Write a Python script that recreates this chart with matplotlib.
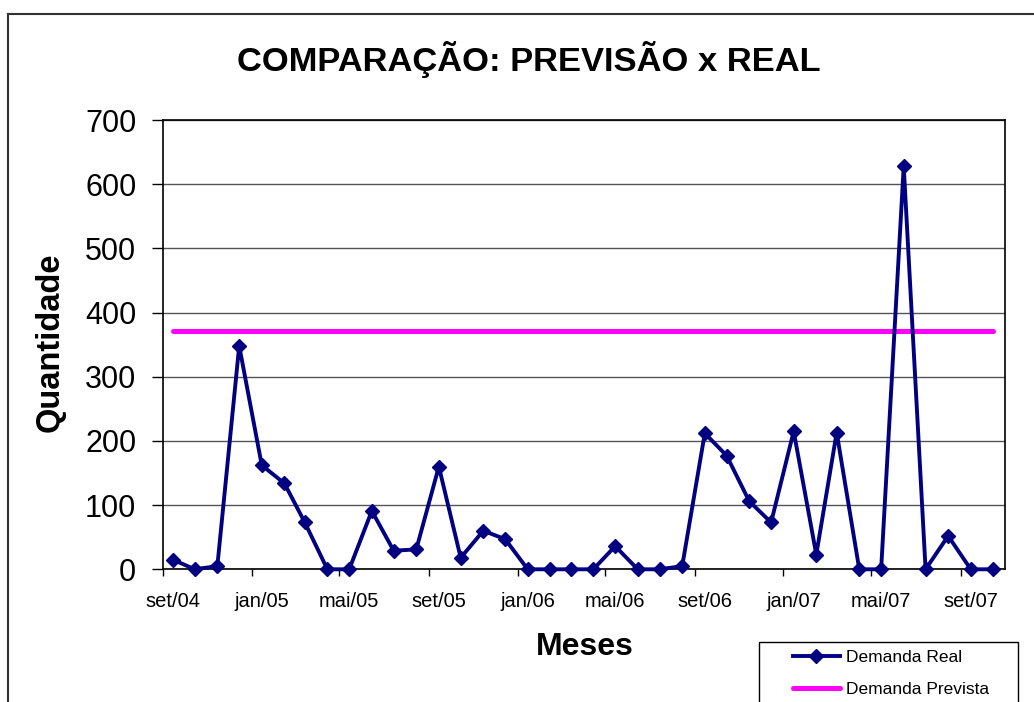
import matplotlib
matplotlib.use('Agg')
import matplotlib.pyplot as plt
import matplotlib.dates as mdates
from matplotlib.lines import Line2D
from matplotlib.patches import Rectangle
import pandas as pd

# meses (dados no dia 15 de cada mes)
meses = ['2004-09', '2004-10', '2004-11', '2004-12',
         '2005-01', '2005-02', '2005-03', '2005-04', '2005-05', '2005-06',
         '2005-07', '2005-08', '2005-09', '2005-10', '2005-11', '2005-12',
         '2006-01', '2006-02', '2006-03', '2006-04', '2006-05', '2006-06',
         '2006-07', '2006-08', '2006-09', '2006-10', '2006-11', '2006-12',
         '2007-01', '2007-02', '2007-03', '2007-04', '2007-05', '2007-06',
         '2007-07', '2007-08', '2007-09', '2007-10']
demanda_real = [15, 0, 5, 348,
                162, 134, 73, 0, 0, 91, 29, 31, 160, 18, 60, 47,
                0, 0, 0, 0, 36, 0, 0, 5, 212, 177, 106, 73,
                215, 23, 213, 0, 0, 628, 0, 52, 0, 0]
demanda_prevista = [372] * len(meses)

meses_pt = ['jan', 'fev', 'mar', 'abr', 'mai', 'jun',
            'jul', 'ago', 'set', 'out', 'nov', 'dez']

datas = pd.to_datetime([m + '-15' for m in meses])

plt.rcParams['font.family'] = ['Liberation Sans', 'DejaVu Sans']

W, H = 1034, 702
fig = plt.figure(figsize=(W / 100, H / 100), dpi=100)
ax = fig.add_axes([162.7 / W, 1 - 569.3 / H, (1005 - 162.7) / W, (569.3 - 120) / H])

ax.plot(datas, demanda_real, color='#000080', lw=2.8, marker='D', ms=7.5,
        label='Demanda Real', clip_on=False, zorder=4)
ax.plot(datas, demanda_prevista, color='#FF00FF', lw=3.6,
        label='Demanda Prevista', solid_capstyle='round', zorder=3)

ax.set_xlim(pd.Timestamp('2004-09-01'), pd.Timestamp('2007-11-01'))
ax.set_ylim(0, 700)
ax.set_yticks(range(0, 701, 100))
ax.yaxis.grid(True, color='#555555', lw=1)
ax.set_axisbelow(True)

ax.xaxis.set_major_locator(mdates.MonthLocator(bymonth=(1, 5, 9)))
ax.xaxis.set_major_formatter(plt.NullFormatter())
ax.xaxis.set_minor_locator(mdates.MonthLocator(bymonth=(1, 5, 9), bymonthday=15))
ax.xaxis.set_minor_formatter(plt.FuncFormatter(
    lambda v, p: '%s/%s' % (meses_pt[mdates.num2date(v).month - 1],
                            mdates.num2date(v).strftime('%y'))))
ax.tick_params(axis='x', which='major', length=5, width=1, direction='out')
ax.tick_params(axis='x', which='minor', length=0, pad=16, labelsize=14.5)
ax.tick_params(axis='y', length=8, width=1, direction='out', pad=11, labelsize=22)
for s in ax.spines.values():
    s.set_color('black')
    s.set_linewidth(1.2)

fig.text(529 / W, 1 - 60 / H, 'COMPARAÇÃO: PREVISÃO x REAL', ha='center', va='center',
         fontsize=24.8, weight='bold')
fig.text(50 / W, 1 - 342 / H, 'Quantidade', ha='center', va='center', rotation=90,
         fontsize=23.5, weight='bold')
fig.text(585 / W, 1 - 647 / H, 'Meses', ha='center', va='center',
         fontsize=23, weight='bold')

# moldura externa do grafico
fig.add_artist(Line2D([8 / W, 8 / W], [-0.01, 1 - 14 / H], color='#333333', lw=1.5))
fig.add_artist(Line2D([8 / W, 1.01], [1 - 14 / H, 1 - 14 / H], color='#333333', lw=1.5))

# caixa da legenda (cortada na parte de baixo)
fig.add_artist(Rectangle((759 / W, -0.05), 259 / W, (702 - 642) / H + 0.05,
                         transform=fig.transFigure, fill=False, ec='black', lw=1))
ax.legend(loc='upper left', bbox_to_anchor=(793 / W, 1 - 650 / H),
          bbox_transform=fig.transFigure, frameon=False, fontsize=12.5,
          handlelength=2.7, handletextpad=0.35, borderpad=0, borderaxespad=0,
          labelspacing=0.95)

fig.savefig('out.png', dpi=100)
